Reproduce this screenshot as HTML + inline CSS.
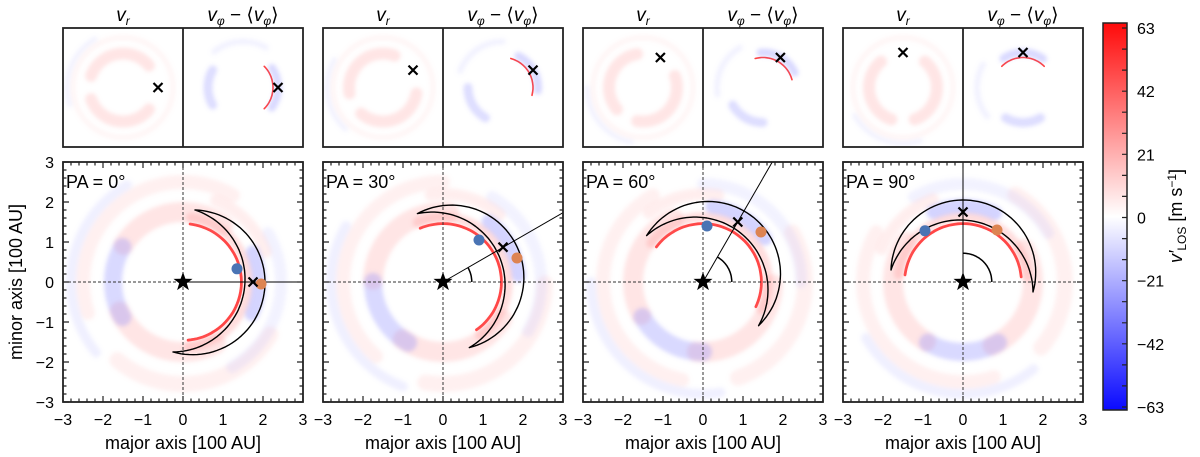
<!DOCTYPE html>
<html><head><meta charset="utf-8">
<style>
body{margin:0;background:#fff;}
svg{display:block;font-family:"Liberation Sans",sans-serif;}
</style></head>
<body>
<svg id="fig" width="1200" height="457" viewBox="0 0 1200 457" xmlns="http://www.w3.org/2000/svg">
<defs>
<linearGradient id="cbg" x1="0" y1="1" x2="0" y2="0">
<stop offset="0" stop-color="#0a0aff"/><stop offset="0.5" stop-color="#ffffff"/><stop offset="1" stop-color="#ff0a0a"/>
</linearGradient>
<filter id="soft" filterUnits="userSpaceOnUse" x="0" y="0" width="1200" height="457"><feGaussianBlur stdDeviation="2"/></filter>
</defs>
</svg>
<script>
const panelPA=[0,30,60,90];
const markX=[[1.75,0],[1.5,0.87],[0.87,1.5],[0,1.75]];
const blueDot=[[1.35,0.33],[0.9,1.05],[0.1,1.4],[-0.95,1.28]];
const orangeDot=[[1.95,-0.05],[1.85,0.6],[1.45,1.25],[0.85,1.3]];
const tickVals=[-3,-2,-1,0,1,2,3];
const cbTicks=[63,42,21,0,-21,-42,-63];

const svg=document.getElementById('fig');
const NS='http://www.w3.org/2000/svg';
function el(tag,attrs,parent){const e=document.createElementNS(NS,tag);for(const k in attrs)e.setAttribute(k,attrs[k]);(parent||svg).appendChild(e);return e;}
function rot(p,a){const r=a*Math.PI/180;return [p[0]*Math.cos(r)-p[1]*Math.sin(r),p[0]*Math.sin(r)+p[1]*Math.cos(r)];}
function circ(A,B,C){const d=2*(A[0]*(B[1]-C[1])+B[0]*(C[1]-A[1])+C[0]*(A[1]-B[1]));
 const a2=A[0]*A[0]+A[1]*A[1],b2=B[0]*B[0]+B[1]*B[1],c2=C[0]*C[0]+C[1]*C[1];
 const ux=(a2*(B[1]-C[1])+b2*(C[1]-A[1])+c2*(A[1]-B[1]))/d,uy=(a2*(C[0]-B[0])+b2*(A[0]-C[0])+c2*(B[0]-A[0]))/d;
 return [ux,uy,Math.hypot(A[0]-ux,A[1]-uy)];}
function arcPts(c,B,C){const aB=Math.atan2(B[1]-c[1],B[0]-c[0]);let aC=Math.atan2(C[1]-c[1],C[0]-c[0]);
 while(aC>aB)aC-=2*Math.PI;const pts=[];const n=60;for(let k=0;k<=n;k++){const a=aB+(aC-aB)*k/n;pts.push([c[0]+c[2]*Math.cos(a),c[1]+c[2]*Math.sin(a)]);}return pts;}
const bgArcs=[[1.46,-85,85,0.07,'#f22',0.85],[1.62,-85,85,0.25,'#f77',0.25],[1.75,55,150,0.5,'#f99',0.25],[1.75,205,300,0.5,'#f99',0.25],
[1.75,150,210,0.45,'#77f',0.28],[1.9,-25,25,0.35,'#66f',0.28],[2.5,60,200,0.35,'#faa',0.18],[2.55,230,330,0.4,'#faa',0.18],
[2.8,120,220,0.25,'#99f',0.15],[2.45,-60,30,0.3,'#aaf',0.15],[2.2,20,70,0.3,'#faa',0.2]];
const vrArcs=[[1.7,40,160,0.6,'#f99',0.25],[1.7,200,320,0.6,'#f99',0.25],[2.5,0,360,0.25,'#faa',0.12],[2.8,120,200,0.25,'#aaf',0.15]];
const vpArcs=[[1.5,-45,45,0.08,'#f22',0.85],[1.75,-35,35,0.4,'#77f',0.28],[1.75,150,210,0.45,'#77f',0.25],[2.3,60,130,0.3,'#aaf',0.15]];
function arcPath(cx,cy,s,r,a0,a1){let d='';for(let a=a0;a<=a1+0.01;a+=3){const t=a*Math.PI/180;d+=(d?'L':'M')+(cx+s*r*Math.cos(t)).toFixed(1)+','+(cy-s*r*Math.sin(t)).toFixed(1);}return d;}
function drawArcs(g,list,cx,cy,s,pa){list.forEach(a=>{const thin=a[3]<0.1;const p=el('path',{d:arcPath(cx,cy,s,a[0],a[1]+pa,a[2]+pa),fill:'none',stroke:a[4],'stroke-width':a[3]*s,'stroke-opacity':a[5],'stroke-linecap':'round'},g);
if(!thin)p.setAttribute('filter','url(#soft)');

});}
function cross(g,x,y,sz){const p=el('path',{d:`M${x-sz},${y-sz}L${x+sz},${y+sz}M${x-sz},${y+sz}L${x+sz},${y-sz}`,stroke:'#000','stroke-width':2.2},g);

}
function star(g,x,y,R){let d='';for(let i=0;i<10;i++){const r=i%2?R*0.4:R;const t=-Math.PI/2+i*Math.PI/5;d+=(i?'L':'M')+(x+r*Math.cos(t)).toFixed(1)+','+(y+r*Math.sin(t)).toFixed(1);}
const p=el('path',{d:d+'Z',fill:'#000'},g);}

panelPA.forEach((pa,i)=>{
 const L=63+260*i;
 const g=el('g',{});
 
 
 ['v_r','v_phi'].forEach((kind,j)=>{
  const x0=L+120*j, cx=x0+60, cy=87.5, s=20;
  const cp=el('clipPath',{id:'ct'+i+j});el('rect',{x:x0,y:28,width:120,height:119},cp);
  const tg=el('g',{'clip-path':`url(#ct${i}${j})`},g);
  
  
  drawArcs(tg,j?vpArcs:vrArcs,cx,cy,s,pa);
  const m=markX[i];cross(tg,cx+m[0]*s,cy-m[1]*s,4.5);
  const t=el('text',{x:cx,y:21,'text-anchor':'middle','font-size':19},g);
  
  
  t.innerHTML=j?'<tspan font-style="italic">v</tspan><tspan font-size="12" font-style="italic" dy="4">φ</tspan><tspan dy="-4"> − ⟨</tspan><tspan font-style="italic">v</tspan><tspan font-size="12" font-style="italic" dy="4">φ</tspan><tspan dy="-4">⟩</tspan>':'<tspan font-style="italic">v</tspan><tspan font-size="12" font-style="italic" dy="4">r</tspan>';
 });
 const fr=el('rect',{x:L,y:28,width:240,height:119,fill:'none',stroke:'#222','stroke-width':1.8},g);
 
 el('line',{x1:L+120,y1:28,x2:L+120,y2:147,stroke:'#222','stroke-width':1.8},g);
 const cx=L+120,cy=282,s=40;
 const cp=el('clipPath',{id:'cb'+i});el('rect',{x:L,y:162,width:240,height:240},cp);
 const bg=el('g',{'clip-path':`url(#cb${i})`},g);
 
 
 drawArcs(bg,bgArcs,cx,cy,s,pa);
 el('line',{x1:L,y1:cy,x2:L+240,y2:cy,stroke:'#333','stroke-width':1,'stroke-dasharray':'3,2'},bg);
 el('line',{x1:cx,y1:162,x2:cx,y2:402,stroke:'#333','stroke-width':1,'stroke-dasharray':'3,2'},bg);
 const e=rot([4.3,0],pa);
 const pl=el('line',{x1:cx,y1:cy,x2:cx+e[0]*s,y2:cy-e[1]*s,stroke:'#000','stroke-width':1},bg);
 
 if(pa>0){const ap=el('path',{d:arcPath(cx,cy,s,0.72,0,pa),fill:'none',stroke:'#000','stroke-width':1.5},bg);
  }
 const A=[2.05,0],Ai=[1.55,0],B=[0.3,1.8],C=[-0.25,-1.75];
 const co=circ(A,B,C),ci=circ(Ai,B,C);
 const outer=arcPts(co,B,C),inner=arcPts(ci,B,C).reverse();
 const all=outer.concat(inner).map(p=>rot(p,pa));
 let cd='';all.forEach((p,k)=>{cd+=(k?'L':'M')+(cx+p[0]*s).toFixed(1)+','+(cy-p[1]*s).toFixed(1);});
 const cr=el('path',{d:cd+'Z',fill:'none',stroke:'#000','stroke-width':1.4,'stroke-linejoin':'round'},bg);
 
 const bd=el('circle',{cx:cx+blueDot[i][0]*s,cy:cy-blueDot[i][1]*s,r:5.5,fill:'#4a74b4'},bg);
 
 const od=el('circle',{cx:cx+orangeDot[i][0]*s,cy:cy-orangeDot[i][1]*s,r:5.5,fill:'#dd8452'},bg);
 
 cross(bg,cx+markX[i][0]*s,cy-markX[i][1]*s,4.5);
 star(bg,cx,cy,10);
 let td='';
 for(let v=-3;v<=3.001;v+=0.2){const mj=Math.abs(v-Math.round(v))<0.01,len=mj?6:3.5,px=cx+v*s,py=cy-v*s;
  td+=`M${px},402v${-len}M${px},162v${len}M${L},${py}h${len}M${L+240},${py}h${-len}`;}
 el('path',{d:td,stroke:'#222','stroke-width':1.2,fill:'none'},g);
 const bf=el('rect',{x:L,y:162,width:240,height:240,fill:'none',stroke:'#222','stroke-width':1.8},g);
 
 const pt=el('text',{x:L+3,y:188,'font-size':18},g);pt.textContent='PA = '+pa+'°';
 
 tickVals.forEach(v=>{const t=el('text',{x:cx+v*s,y:425,'text-anchor':'middle','font-size':16},g);t.textContent=v<0?'−'+(-v):v;
  
  if(i===0){const ty=el('text',{x:L-9,y:cy-v*s+6,'text-anchor':'end','font-size':16},g);ty.textContent=v<0?'−'+(-v):v;
   }});
 const xt=el('text',{x:cx,y:449,'text-anchor':'middle','font-size':18},g);xt.textContent='major axis [100 AU]';
 
});
const yt=el('text',{x:0,y:0,'text-anchor':'middle','font-size':18,transform:'translate(22,282) rotate(-90)'});
yt.textContent='minor axis [100 AU]';

const cb=el('g',{});
el('rect',{x:1103,y:23,width:24,height:387,fill:'url(#cbg)',stroke:'#222','stroke-width':1.5},cb);
const cyT=v=>28+(63-v)/126*379;
let cd2='';for(let v=-63;v<=63;v+=7)cd2+=`M1127,${cyT(v).toFixed(1)}h-5`;
el('path',{d:cd2,stroke:'#222','stroke-width':1.2},cb);
cbTicks.forEach(v=>{const t=el('text',{x:1137,y:cyT(v)+6,'font-size':16},cb);t.textContent=v<0?'−'+(-v):v;
 });
const ct=el('text',{x:0,y:0,'text-anchor':'middle','font-size':18,transform:'translate(1182,216) rotate(-90)'},cb);
ct.innerHTML='<tspan font-style="italic">v′</tspan><tspan font-size="12" dy="4">LOS</tspan><tspan dy="-4"> [m s</tspan><tspan font-size="12" dy="-6">−1</tspan><tspan dy="6">]</tspan>';

</script>
</body></html>
